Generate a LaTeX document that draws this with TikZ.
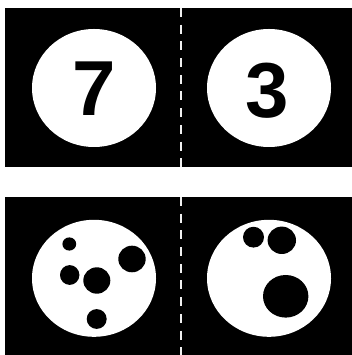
\documentclass[tikz,border=0pt]{standalone}
\usepackage{fontspec}
\setmainfont{Liberation Sans}
\usepackage{tikz}

\begin{document}
\begin{tikzpicture}[
  x=1pt, y=1pt,
  panel/.style={fill=black},
  disc/.style={fill=white},
  hole/.style={fill=black},
  digit/.style={inner sep=0pt, font=\fontsize{78}{78}\selectfont\bfseries},
  divider/.style={draw=gray!12, line width=2pt, dash pattern=on 9pt off 7.7pt},
]
  \useasboundingbox (0,0) rectangle (352,355);

  % panels
  \fill[panel] (5,187.5) rectangle (352,347);
  \fill[panel] (5,0) rectangle (352,158);

  % top row: numbers
  \fill[disc] (94,267) ellipse [x radius=62, y radius=59];
  \fill[disc] (269,267) ellipse [x radius=62, y radius=59];
  \node[digit] (seven) at (94,266) {7};
  \node[digit] (three) at (267,264) {3};

  % bottom row: dots
  \fill[disc] (94,76.7) ellipse [x radius=62, y radius=58.5];
  \fill[disc] (269,76.7) ellipse [x radius=62, y radius=58.5];

  \fill[hole] (69.3,111) ellipse [x radius=6.9, y radius=6.6];
  \fill[hole] (132,96) ellipse [x radius=13.7, y radius=13.3];
  \fill[hole] (69.7,80) ellipse [x radius=9.7, y radius=9.9];
  \fill[hole] (96.8,74.5) ellipse [x radius=13.5, y radius=13.2];
  \fill[hole] (96.7,36) ellipse [x radius=10, y radius=9.9];

  \fill[hole] (253.5,117.8) ellipse [x radius=10.5, y radius=10.4];
  \fill[hole] (281.8,114.7) ellipse [x radius=14.2, y radius=13.7];
  \fill[hole] (285.7,58.7) ellipse [x radius=22.7, y radius=21.3];

  % dividers
  \draw[divider] (181.3,347) -- (181.3,187.5);
  \draw[divider] (181.3,158) -- (181.3,0);
\end{tikzpicture}
\end{document}
